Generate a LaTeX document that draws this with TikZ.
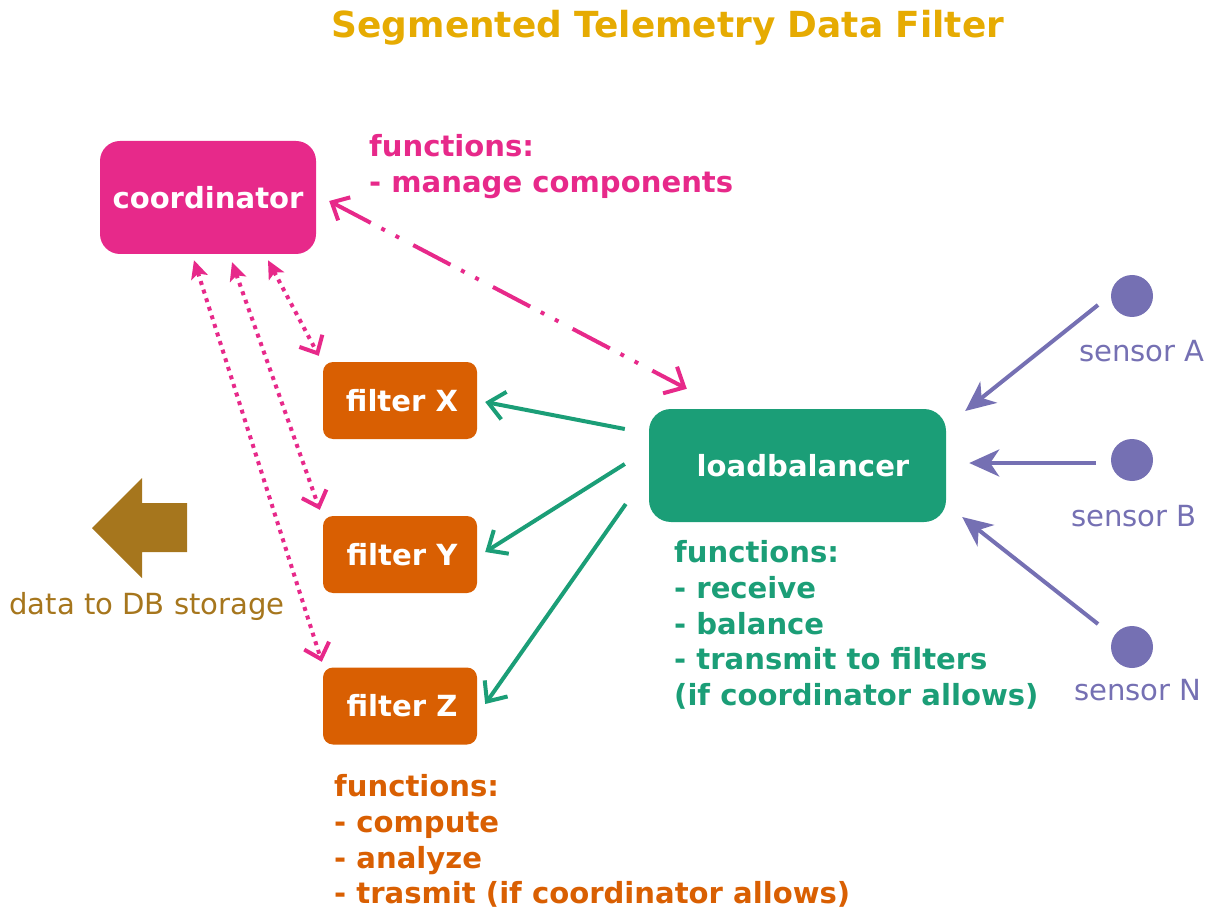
\documentclass[tikz,border=0pt]{standalone}
\usepackage{fontspec}
\setmainfont{DejaVu Sans}
\usetikzlibrary{arrows.meta}
\definecolor{cpink}{HTML}{E7298A}
\definecolor{cteal}{HTML}{1B9E77}
\definecolor{corange}{HTML}{D95F02}
\definecolor{cpurple}{HTML}{7570B3}
\definecolor{cyellow}{HTML}{E6AB02}
\definecolor{cbrown}{HTML}{A6761D}
\newcommand{\fsz}{\fontsize{29.1}{35.6}\selectfont}
\tikzset{
  boxstyle/.style={draw=none, rounded corners=#1, font=\fsz\bfseries, text=white, inner sep=0pt},
  filterbox/.style={boxstyle=10pt, fill=corange, minimum width=154pt, minimum height=77pt},
  notestyle/.style={font=\fsz\bfseries, align=left, anchor=north west, inner sep=0pt},
  sensorstyle/.style={circle, fill=cpurple, minimum size=42pt, inner sep=0pt},
  plainlabel/.style={font=\fsz, anchor=base, inner sep=0pt},
  pinkdashdot/.style={cpink, line width=4pt, dash pattern=on 42pt off 12pt on 4pt off 12pt on 4pt off 16pt, {Straight Barb[length=14pt,width=26pt]}-{Straight Barb[length=16pt,width=30pt]}},
  pinkdot/.style={cpink, line width=4pt, dash pattern=on 4pt off 5pt, {Stealth[length=18pt,width=17pt,inset=4pt]}-{Straight Barb[length=14pt,width=26pt]}},
  greenarrow/.style={cteal, line width=4pt, -{Straight Barb[length=16pt,width=28pt]}},
  purplearrow/.style={cpurple, line width=4pt, -{Stealth[length=30pt,width=27pt,inset=9pt]}},
}
\begin{document}
\begin{tikzpicture}[x=1pt, y=-1pt]
\useasboundingbox (0,0) rectangle (1221,909);

% title
\node[font=\fontsize{35.9}{42}\selectfont\bfseries, text=cyellow, anchor=base, inner sep=0pt] (title) at (668,38) {Segmented Telemetry Data Filter};

% main nodes
\node[boxstyle=20pt, fill=cpink, minimum width=216pt, minimum height=113pt] (coord) at (208,197.5) {coordinator};
\node[filterbox] (fX) at (400,400.5) {\hspace*{4pt}filter X};
\node[filterbox] (fY) at (400,554.5) {\hspace*{4pt}filter Y};
\node[filterbox] (fZ) at (400,706) {\hspace*{4pt}filter Z};
\node[boxstyle=22pt, fill=cteal, minimum width=297pt, minimum height=113pt] (lb) at (797.5,465.5) {\hspace*{11pt}loadbalancer};

% sensors
\node[sensorstyle] (sA) at (1132,296) {};
\node[sensorstyle] (sB) at (1132,460) {};
\node[sensorstyle] (sN) at (1132,647) {};
\node[plainlabel, text=cpurple] (sAl) at (1142,361) {sensor A};
\node[plainlabel, text=cpurple] (sBl) at (1134,526) {sensor B};
\node[plainlabel, text=cpurple] (sNl) at (1138,700) {sensor N};

% DB arrow
\fill[cbrown] (92,528) -- (142,478) -- (142,503) -- (187,503) -- (187,552) -- (142,552) -- (142,578) -- cycle;
\node[plainlabel, text=cbrown] (dbl) at (147,614) {data to DB storage};

% notes
\node[notestyle, text=cpink] (ncoord) at (369,134.5) {functions:\\- manage components};
\node[notestyle, text=cteal] (nlb) at (674,540.5) {functions:\\- receive\\- balance\\- transmit to filters\\(if coordinator allows)};
\node[notestyle, text=corange] (nf) at (334,774.5) {functions:\\- compute\\- analyze\\- trasmit (if coordinator allows)};

% connectors
\draw[pinkdashdot] ([shift={(13,3.5)}]coord.east) -- ([shift={(38,-20)}]lb.north west);
\draw[pinkdot] ([shift={(60,6)}]coord.south) -- ([shift={(-4,-6)}]fX.north west);
\draw[pinkdot] ([shift={(24,8)}]coord.south) -- ([shift={(-3,-6)}]fY.north west);
\draw[pinkdot] ([shift={(-14,6)}]coord.south) -- ([shift={(-1,-5.5)}]fZ.north west);

\draw[greenarrow] ([shift={(-24,-36.5)}]lb.west) -- ([shift={(8,1.5)}]fX.east);
\draw[greenarrow] ([shift={(-24,-1.5)}]lb.west) -- ([shift={(8,-2.5)}]fY.east);
\draw[greenarrow] ([shift={(-23,38.5)}]lb.west) -- ([shift={(8,-2)}]fZ.east);

\draw[purplearrow] ([shift={(-34,9)}]sA.center) -- ([shift={(19,-54.5)}]lb.east);
\draw[purplearrow] ([shift={(-36,3)}]sB.center) -- ([shift={(23,-2.5)}]lb.east);
\draw[purplearrow] ([shift={(-34,-23)}]sN.center) -- ([shift={(16,51.5)}]lb.east);
\end{tikzpicture}
\end{document}
